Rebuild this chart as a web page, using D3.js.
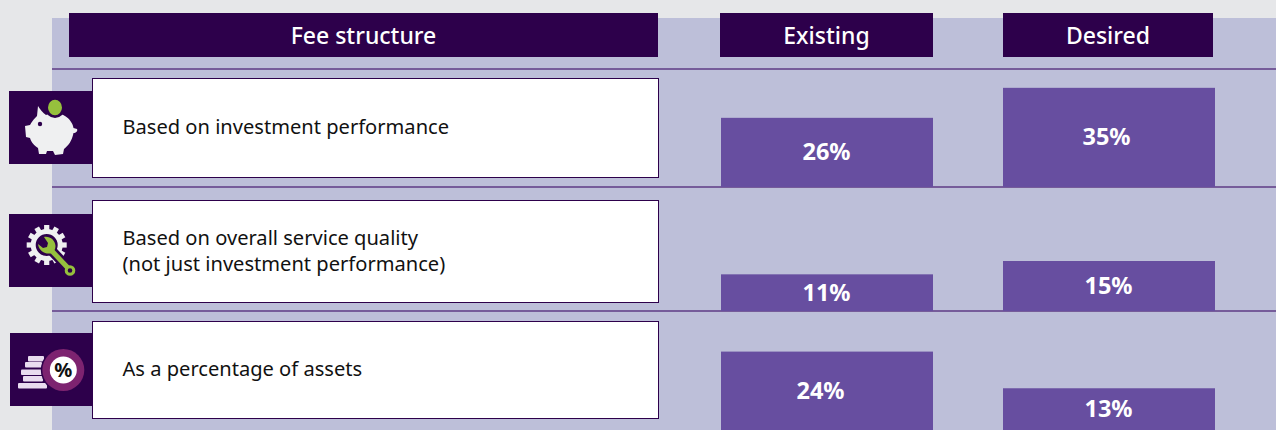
<!DOCTYPE html>
<html>
<head>
<meta charset="utf-8">
<script src="https://cdn.jsdelivr.net/npm/d3@7"></script>
<style>
  html, body { margin: 0; padding: 0; background: #e6e7e9; overflow: hidden; }
  text { font-family: "Noto Sans", sans-serif; }
</style>
</head>
<body>
<script>
const width = 1276
const height = 430

const fees = ['performance', 'service', 'assets']
const feeLabels = [
    ['Based on investment performance'],
    ['Based on overall service quality', '(not just investment performance)'],
    ['As a percentage of assets']
]
const columns = ['Existing', 'Desired']
const existing = [26, 11, 24]
const desired = [35, 15, 13]

// the row geometry of the page, bars sit on these
const rowBase = [204.5, 311, 431.6]
const rowClip = [187, 311, 430]
const rowLines = [69, 187, 311]
const boxes = [[78, 99], [200, 102], [321, 97]]
const iconTops = [91, 214, 333]
// a few labels are not quite centred in the original
const labelShift = [[0, 0, -6], [-2, 0, 0]]

const dark = '#2d004b'
const barColor = '#674ea0'
const panel = '#bdbfd9'
const line = '#5f3b85'

let svg = d3.select('body').append('svg')
    .attr('width', width)
    .attr('height', height)
    .style('display', 'block')

let x = d3.scaleBand().domain(columns).range([721, 1215]).paddingInner(70 / 282)
let barH = d3.scaleLinear().domain([0, 30]).range([0, 100])

svg.append('rect').attr('x', 52).attr('y', 18).attr('width', width - 52).attr('height', height - 18).attr('fill', panel)

// headers
function header(hx, hw, label) {
    svg.append('rect').attr('x', hx).attr('y', 13).attr('width', hw).attr('height', 44).attr('fill', dark)
    svg.append('text').attr('x', hx + hw / 2).attr('y', 36).attr('dy', '0.36em')
        .attr('text-anchor', 'middle').attr('fill', '#fff')
        .attr('font-size', 23).attr('font-weight', 500).text(label)
}
header(69, 589, 'Fee structure')
header(720, 213, 'Existing')
header(1003, 210, 'Desired')

svg.selectAll('.rowLine').data(rowLines).join('line')
    .attr('class', 'rowLine')
    .attr('x1', 52).attr('x2', width)
    .attr('y1', d => d).attr('y2', d => d)
    .attr('stroke', line).attr('stroke-width', 1.4)

// bars, clipped at the row line because the first row runs under it
let defs = svg.append('defs')
fees.forEach((f, i) => {
    defs.append('clipPath').attr('id', 'clip-' + f).append('rect')
        .attr('x', 0).attr('y', rowClip[i] - 200).attr('width', width).attr('height', 200)
})

let series = [existing, desired]
columns.forEach((c, j) => {
    let g = svg.append('g').attr('class', 'col-' + c)
    let rows = g.selectAll('g').data(series[j]).join('g')
        .attr('clip-path', (d, i) => `url(#clip-${fees[i]})`)
    rows.append('rect')
        .attr('x', x(c))
        .attr('width', x.bandwidth())
        .attr('y', (d, i) => rowBase[i] - barH(d))
        .attr('height', d => barH(d))
        .attr('fill', barColor)
    g.selectAll('text').data(series[j]).join('text')
        .attr('x', (d, i) => x(c) + x.bandwidth() / 2 - 0.5 + labelShift[j][i])
        .attr('y', (d, i) => (rowBase[i] - barH(d) + rowClip[i]) / 2 - 0.5)
        .attr('dy', '0.36em')
        .attr('text-anchor', 'middle')
        .attr('fill', '#fff')
        .attr('font-size', 23.5)
        .attr('font-weight', 700)
        .text(d => d + '%')
})

// label boxes
fees.forEach((f, i) => {
    svg.append('rect').attr('x', 92.5).attr('y', boxes[i][0] + 0.5)
        .attr('width', 566).attr('height', boxes[i][1])
        .attr('fill', '#fff').attr('stroke', dark).attr('stroke-width', 1)
    let lines = feeLabels[i]
    let mid = boxes[i][0] + boxes[i][1] / 2
    lines.forEach((t, k) => {
        svg.append('text').attr('x', 122.5)
            .attr('y', mid - 0.5 + (k - (lines.length - 1) / 2) * 26)
            .attr('dy', '0.36em')
            .attr('font-size', 20.1).attr('fill', '#111').text(t)
    })
})

// icons
iconTops.forEach((t, i) => {
    svg.append('rect').attr('x', i == 2 ? 10 : 9).attr('y', t)
        .attr('width', i == 2 ? 82 : 83).attr('height', 73).attr('fill', dark)
})

const iconWhite = '#eff0f1'
const green = '#96c03d'

// piggy bank
let pig = svg.append('g')
pig.append('path').attr('fill', iconWhite)
    .attr('d', 'M38 106 C40 109 43 113 46 115 C52 113 60 113 65 116 C70 119 73 124 73.5 128 L77 129 C78 131 76 133 73.5 133 C72 141 68 146 64 149 L63 154 L55 155 L53 151 C50 151 48 151 47 151 L46 154 L39 154 L38 148 C33 145 31 141 30 138 L26 137 L25 126 L30 125 C32 121 35 118 37 116 Z')
pig.append('circle').attr('cx', 40).attr('cy', 124).attr('r', 2.2).attr('fill', dark)
pig.append('circle').attr('cx', 55).attr('cy', 108).attr('r', 10).attr('fill', dark)
pig.append('ellipse').attr('cx', 55).attr('cy', 107.5).attr('rx', 7).attr('ry', 7.7).attr('fill', green)

// gear and wrench
let gear = svg.append('g')
let cx = 46.7, cy = 245
d3.range(12).forEach(k => {
    gear.append('rect').attr('x', cx - 2.6).attr('y', cy - 20).attr('width', 5.2).attr('height', 6)
        .attr('fill', iconWhite).attr('transform', `rotate(${k * 30} ${cx} ${cy})`)
})
gear.append('circle').attr('cx', cx).attr('cy', cy).attr('r', 13.5).attr('fill', 'none')
    .attr('stroke', iconWhite).attr('stroke-width', 5)
gear.append('path').attr('fill', 'none').attr('stroke', dark).attr('stroke-width', 10)
    .attr('d', 'M51 250 L71 271')
gear.append('path').attr('fill', 'none').attr('stroke', green).attr('stroke-width', 5)
    .attr('d', 'M51 250 L68 268')
gear.append('path').attr('fill', green)
    .attr('d', 'M38 244 L43 248 L47 247 L48 243 L44 237 C50 236 55 240 55.5 246 C55.5 249 54 252 52 253 C47 255 39 252 38 244 Z')
gear.append('circle').attr('cx', 70).attr('cy', 270.5).attr('r', 3.8).attr('fill', dark)
    .attr('stroke', green).attr('stroke-width', 3)

// coins and percent
let coins = svg.append('g')
const coinBars = [[28, 356, 16], [25, 362, 17], [21, 369.5, 21], [23, 376, 20], [18, 383, 29]]
coinBars.forEach(c => {
    coins.append('rect').attr('x', c[0]).attr('y', c[1]).attr('width', c[2]).attr('height', 5.5)
        .attr('rx', 1).attr('fill', '#e9dcef')
})
coins.append('circle').attr('cx', 63.3).attr('cy', 370).attr('r', 22.5).attr('fill', dark)
coins.append('circle').attr('cx', 63.3).attr('cy', 370).attr('r', 21).attr('fill', '#7d2370')
coins.append('circle').attr('cx', 63.3).attr('cy', 370).attr('r', 13.5).attr('fill', '#fff')
coins.append('text').attr('x', 63.3).attr('y', 370).attr('dy', '0.36em')
    .attr('text-anchor', 'middle').attr('font-size', 20).attr('font-weight', 700).attr('fill', '#111').text('%')
</script>
</body>
</html>
